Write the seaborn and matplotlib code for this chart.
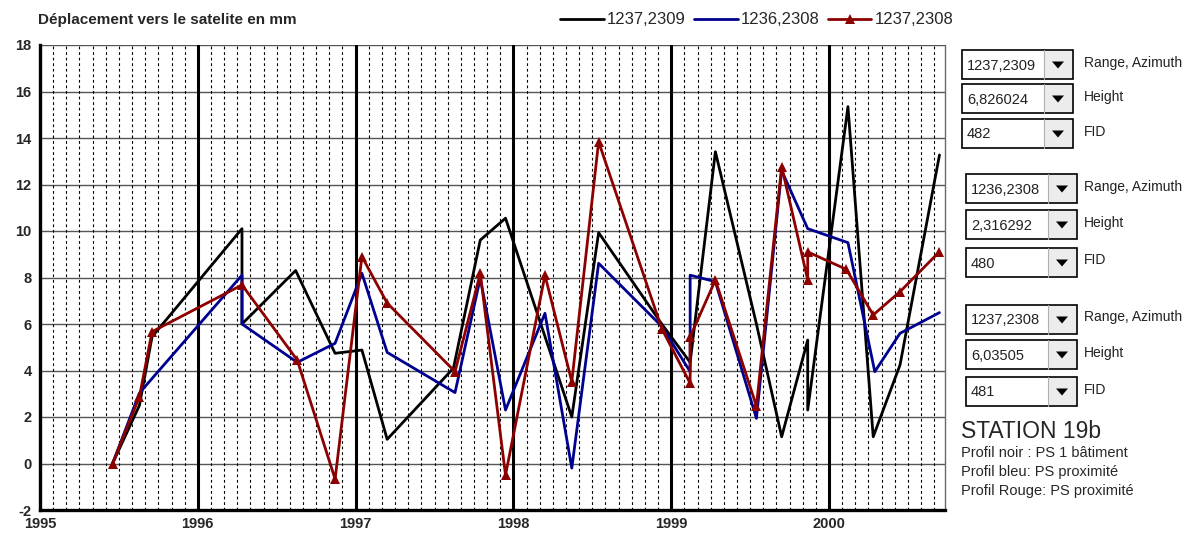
import numpy as np
import pandas as pd
import seaborn as sns
import matplotlib.pyplot as plt
from matplotlib.patches import Rectangle, Polygon
from matplotlib.lines import Line2D

# =========================
# DATA (decimal years / mm)
# =========================
x_noir = [1995.46, 1995.63, 1995.71, 1996.28, 1996.28, 1996.62, 1996.87, 1997.04, 1997.20,
          1997.62, 1997.79, 1997.95, 1998.37, 1998.54, 1998.94, 1999.12, 1999.28, 1999.54,
          1999.70, 1999.865, 1999.865, 2000.12, 2000.28, 2000.45, 2000.70]
y_noir = [0.0, 2.5, 5.45, 10.1, 6.0, 8.3, 4.74, 4.88, 1.04,
          4.1, 9.61, 10.55, 2.0, 9.93, 6.0, 4.35, 13.41, 6.0,
          1.15, 5.31, 2.3, 15.35, 1.15, 4.24, 13.27]

x_bleu = [1995.46, 1995.63, 1996.28, 1996.28, 1996.63, 1996.87, 1997.04, 1997.20, 1997.63,
          1997.79, 1997.95, 1998.20, 1998.37, 1998.54, 1998.94, 1999.12, 1999.12, 1999.28,
          1999.54, 1999.70, 1999.865, 2000.12, 2000.29, 2000.45, 2000.70]
y_bleu = [0.0, 3.03, 8.1, 6.0, 4.35, 5.17, 8.18, 4.78, 3.05,
          7.97, 2.3, 6.46, -0.2, 8.61, 5.9, 3.95, 8.1, 7.82,
          1.94, 12.6, 10.1, 9.5, 3.95, 5.6, 6.49]

x_rouge = [1995.46, 1995.63, 1995.71, 1996.28, 1996.63, 1996.87, 1997.04, 1997.20, 1997.63,
           1997.79, 1997.95, 1998.20, 1998.37, 1998.54, 1998.94, 1999.12, 1999.12, 1999.28,
           1999.54, 1999.70, 1999.865, 1999.865, 2000.11, 2000.28, 2000.45, 2000.70]
y_rouge = [0.0, 2.87, 5.67, 7.68, 4.45, -0.67, 8.9, 6.9, 3.95,
           8.18, -0.5, 8.1, 3.52, 13.84, 5.8, 3.45, 5.45, 7.89,
           2.47, 12.77, 7.9, 9.1, 8.35, 6.39, 7.39, 9.11]

labels = ["1237,2309", "1236,2308", "1237,2308"]
couleurs = ["#000000", "#000090", "#8c0000"]

y_ticks = list(range(-2, 19, 2))
x_ticks = [1995, 1996, 1997, 1998, 1999, 2000]

# combo boxes on the right : (value, label)
combos = [("1237,2309", "Range, Azimuth"), ("6,826024", "Height"), ("482", "FID"),
          ("1236,2308", "Range, Azimuth"), ("2,316292", "Height"), ("480", "FID"),
          ("1237,2308", "Range, Azimuth"), ("6,03505", "Height"), ("481", "FID")]
notes = ["Profil noir : PS 1 bâtiment", "Profil bleu: PS proximité", "Profil Rouge: PS proximité"]

# =========================
# FIGURE
# =========================
sns.set_style("white")
plt.rcParams['font.family'] = ['Liberation Sans', 'DejaVu Sans']

W, H = 1189, 537
fig = plt.figure(figsize=(W / 100, H / 100), dpi=100)
ax = fig.add_axes([40 / W, 27 / H, 905 / W, 465 / H])

series = [(x_noir, y_noir, None), (x_bleu, y_bleu, None), (x_rouge, y_rouge, "^")]
for (xs, ys, mk), lab, col in zip(series, labels, couleurs):
    df = pd.DataFrame({"annee": xs, "mm": ys})
    sns.lineplot(data=df, x="annee", y="mm", ax=ax, sort=False, estimator=None,
                 color=col, lw=2.0, marker=mk, markersize=7, markeredgewidth=0,
                 legend=False, zorder=5)

ax.set_xlim(1995, 2000.735)
ax.set_ylim(-2, 18)

# grid
for yv in y_ticks:
    ax.axhline(yv, color="#555555", lw=1.0, zorder=1)
months = np.arange(1995, 2000.74, 1 / 12)
for xv in months:
    if abs(xv - round(xv)) > 1e-6:
        ax.axvline(xv, color="black", lw=0.8, ls=(0, (2.5, 2.5)), zorder=1)
for xv in x_ticks[1:]:
    ax.axvline(xv, color="black", lw=2.2, zorder=2)

ax.set_xticks(x_ticks)
ax.set_yticks(y_ticks)
ax.set_xticklabels([str(v) for v in x_ticks], fontsize=10.5, fontweight="bold")
ax.set_yticklabels([str(v) for v in y_ticks], fontsize=10.5, fontweight="bold")
ax.tick_params(axis="both", direction="out", length=4, width=2, pad=2, color="black")
ax.tick_params(axis="x", pad=1)
ax.set_xlabel("")
ax.set_ylabel("")
for side in ["left", "bottom"]:
    ax.spines[side].set_linewidth(2.4)
    ax.spines[side].set_color("black")
ax.spines["top"].set_visible(False)
ax.spines["right"].set_color("#6a6a6a")
ax.spines["right"].set_linewidth(1.0)

# title
fig.text(38 / W, 1 - 20 / H, "Déplacement vers le satelite en mm", fontsize=11,
         fontweight="bold", va="center", ha="left")

# legend
handles = [Line2D([], [], color=c, lw=2.0, marker=m, markersize=7, markeredgewidth=0)
           for c, m in zip(couleurs, [None, None, "^"])]
fig.legend(handles, labels, loc="center", bbox_to_anchor=(757 / W, 1 - 20 / H), ncol=3,
           frameon=False, fontsize=12, handlelength=2.6, handletextpad=0.2,
           columnspacing=0.5, borderpad=0)

# right panel in pixel coords
ov = fig.add_axes([0, 0, 1, 1], zorder=10)
ov.set_xlim(0, W)
ov.set_ylim(H, 0)
ov.axis("off")
ov.patch.set_alpha(0)

tops = [50, 84, 119, 174, 210, 248, 305, 340, 377]
lefts = [962, 962, 962, 966, 966, 966, 966, 966, 966]
for (val, lab), top, left in zip(combos, tops, lefts):
    w, h = 111, 29
    ov.add_patch(Rectangle((left, top), w, h, fc="white", ec="black", lw=1.2))
    ov.add_patch(Rectangle((left + w - 29, top + 1), 28, h - 2, fc="#ececec", ec="none"))
    ov.plot([left + w - 29, left + w - 29], [top, top + h], color="#b0b0b0", lw=0.8)
    cx, cy = left + w - 15, top + h / 2
    ov.add_patch(Polygon([(cx - 6, cy - 3), (cx + 6, cy - 3), (cx, cy + 4)], closed=True,
                         fc="black", ec="none"))
    ov.text(left + 5, top + h / 2 + 1, val, fontsize=10.5, va="center", ha="left",
            color="#222222")
    ov.text(1084, top + h / 2 - 2, lab, fontsize=10, va="center", ha="left",
            color="#222222")

ov.text(961, 431, "STATION 19b", fontsize=16.5, va="center", ha="left")
for i, n in enumerate(notes):
    ov.text(961, 453 + i * 19, n, fontsize=10.5, va="center", ha="left")

plt.savefig("out.png", dpi=100)
